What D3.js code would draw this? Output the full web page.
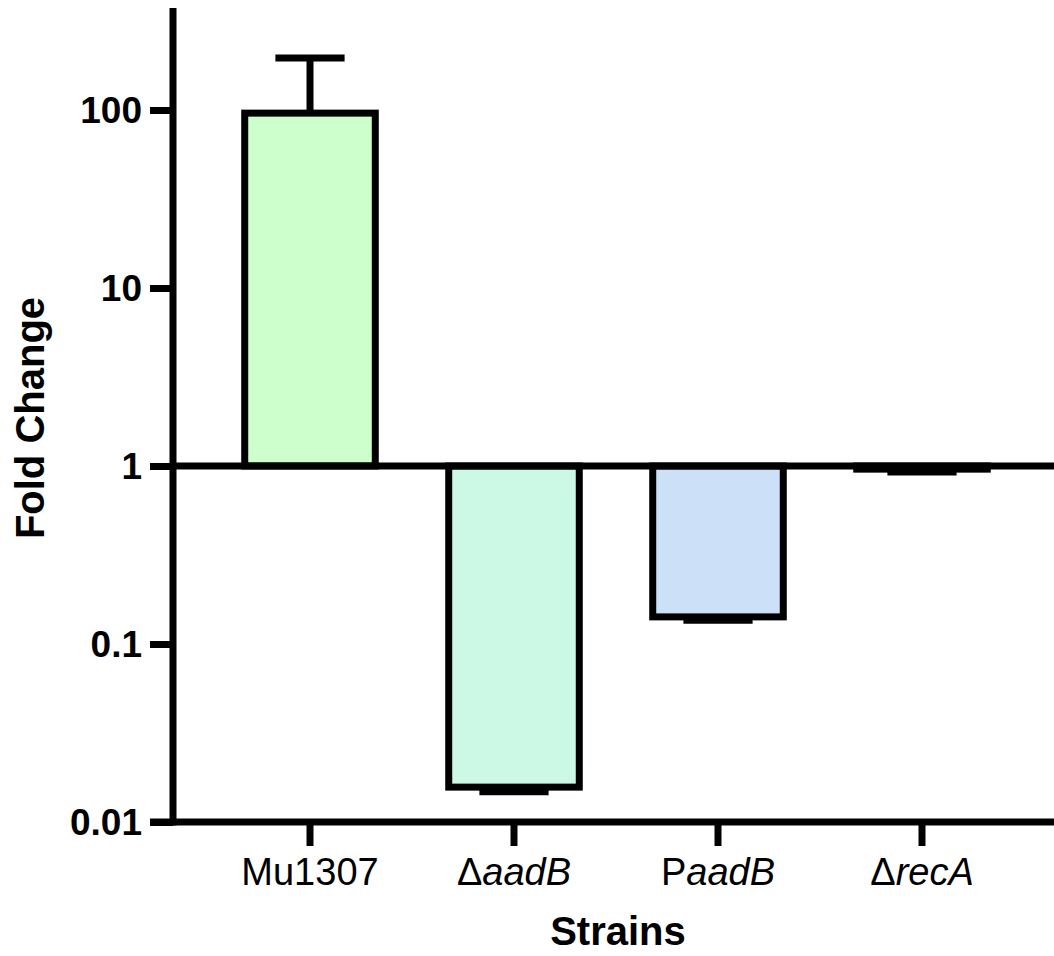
<!DOCTYPE html>
<html>
<head>
<meta charset="utf-8">
<title>Fold Change by Strain</title>
<script src="https://d3js.org/d3.v7.min.js"></script>
<style>
  body { margin: 0; background: #fff; }
  text { font-family: "Liberation Sans", Arial, sans-serif; fill: #000; }
  .tick-label { font-size: 37px; font-weight: bold; }
  .cat-label { font-size: 38px; }
  .title { font-size: 40px; font-weight: bold; }
</style>
</head>
<body>
<svg id="chart" width="1054" height="956"></svg>
<script>
// data
var strains = ["Mu1307", "ΔaadB", "PaadB", "ΔrecA"];
var labelParts = [
  [["Mu1307", false]],
  [["Δ", false], ["aadB", true]],
  [["P", false], ["aadB", true]],
  [["Δ", false], ["recA", true]]
];
var foldChange = [96, 0.0157, 0.142, 0.96];
var errorEnd = [196, 0.0148, 0.136, 0.925];
var colors = ["#ccffcc", "#ccf8e6", "#cce0f8", "#cce0f8"];
var yTicks = [0.01, 0.1, 1, 10, 100];
var yTickText = ["0.01", "0.1", "1", "10", "100"];

var svg = d3.select("#chart");
var stroke = 7;

var y = d3.scaleLog()
  .domain([0.01, 374])
  .range([822, 8]);

var x = d3.scaleBand()
  .domain(strains)
  .range([208, 1024])
  .paddingInner(0.36)
  .paddingOuter(0.18);

// bars
var bars = svg.append("g");
bars.selectAll("rect")
  .data(strains)
  .enter().append("rect")
  .attr("x", function(d) { return x(d); })
  .attr("width", x.bandwidth())
  .attr("y", function(d, i) { return Math.min(y(foldChange[i]), y(1)); })
  .attr("height", function(d, i) { return Math.abs(y(foldChange[i]) - y(1)); })
  .attr("fill", function(d, i) { return colors[i]; })
  .attr("stroke", "#000")
  .attr("stroke-width", stroke);

// error bars (one sided, away from baseline)
var err = svg.append("g").attr("stroke", "#000").attr("stroke-width", stroke);
strains.forEach(function(d, i) {
  var cx = x(d) + x.bandwidth() / 2;
  err.append("line")
    .attr("x1", cx).attr("x2", cx)
    .attr("y1", y(foldChange[i])).attr("y2", y(errorEnd[i]));
  err.append("line")
    .attr("x1", cx - x.bandwidth() * 0.265).attr("x2", cx + x.bandwidth() * 0.265)
    .attr("y1", y(errorEnd[i])).attr("y2", y(errorEnd[i]));
});

// baseline at 1
svg.append("line")
  .attr("x1", 173).attr("x2", 1054)
  .attr("y1", y(1)).attr("y2", y(1))
  .attr("stroke", "#000").attr("stroke-width", stroke);

// y axis
var yAxis = svg.append("g")
  .attr("transform", "translate(173,0)")
  .call(d3.axisLeft(y).tickValues(yTicks).tickSize(23).tickPadding(0).tickFormat(""));
yAxis.select(".domain").remove();
yAxis.selectAll(".tick line").attr("stroke", "#000").attr("stroke-width", stroke);
svg.append("line")
  .attr("x1", 173).attr("x2", 173)
  .attr("y1", y.range()[1]).attr("y2", y.range()[0] + stroke / 2)
  .attr("stroke", "#000").attr("stroke-width", stroke);

svg.append("g").selectAll("text")
  .data(yTicks)
  .enter().append("text")
  .attr("class", "tick-label")
  .attr("x", 142)
  .attr("y", function(d) { return y(d); })
  .attr("dy", "0.36em")
  .attr("text-anchor", "end")
  .text(function(d, i) { return yTickText[i]; });

// x axis
svg.append("line")
  .attr("x1", 150).attr("x2", 1054)
  .attr("y1", y(0.01)).attr("y2", y(0.01))
  .attr("stroke", "#000").attr("stroke-width", stroke);

var xAxis = svg.append("g")
  .attr("transform", "translate(0," + y(0.01) + ")")
  .call(d3.axisBottom(x).tickSize(24).tickFormat(""));
xAxis.select(".domain").remove();
xAxis.selectAll(".tick line").attr("stroke", "#000").attr("stroke-width", stroke);

var cats = svg.append("g").selectAll("text")
  .data(strains)
  .enter().append("text")
  .attr("class", "cat-label")
  .attr("x", function(d) { return x(d) + x.bandwidth() / 2; })
  .attr("y", 885)
  .attr("text-anchor", "middle");
cats.each(function(d, i) {
  var t = d3.select(this);
  labelParts[i].forEach(function(p) {
    t.append("tspan")
      .attr("font-style", p[1] ? "italic" : "normal")
      .text(p[0]);
  });
});

// axis titles
svg.append("text")
  .attr("class", "title")
  .attr("x", 618)
  .attr("y", 945)
  .attr("text-anchor", "middle")
  .text("Strains");

svg.append("text")
  .attr("class", "title")
  .attr("transform", "translate(44,418) rotate(-90)")
  .attr("text-anchor", "middle")
  .text("Fold Change");
</script>
</body>
</html>
